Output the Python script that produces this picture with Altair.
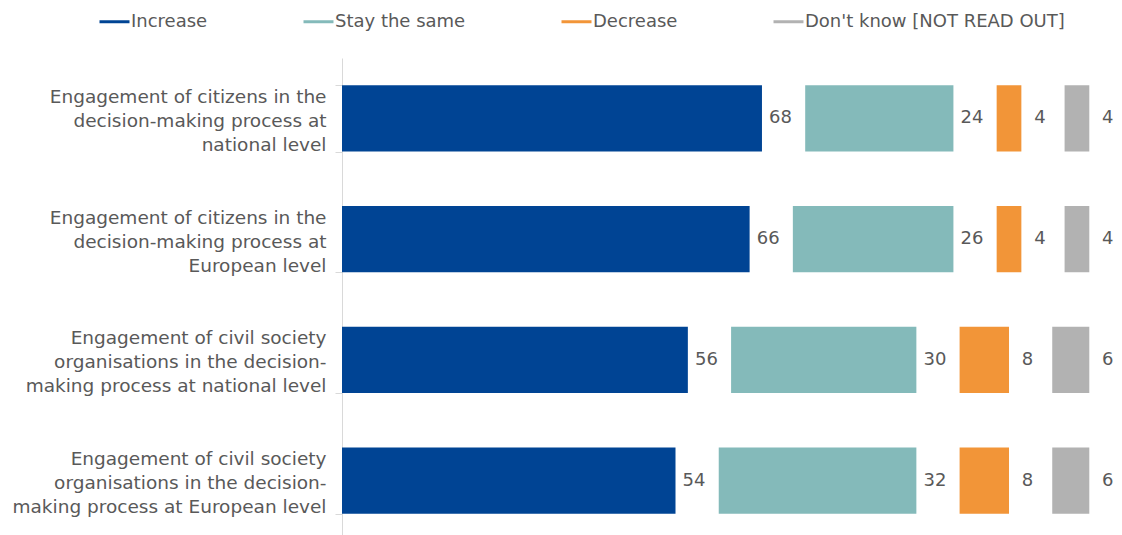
import altair as alt
import pandas as pd

categories = [
    "Engagement of citizens in the|decision-making process at|national level",
    "Engagement of citizens in the|decision-making process at|European level",
    "Engagement of civil society|organisations in the decision-|making process at national level",
    "Engagement of civil society|organisations in the decision-|making process at European level",
]
responses = ["Increase", "Stay the same", "Decrease", "Don't know [NOT READ OUT]"]
increase = [68, 66, 56, 54]
stay = [24, 26, 30, 32]
decrease = [4, 4, 8, 8]
dont_know = [4, 4, 6, 6]
colors = ["#004494", "#84BABA", "#F29538", "#B2B2B2"]
GAP = 7  # spacing (in value units) between segments, room for the labels
LABEL_SHIFT = 3.0

series = [increase, stay, decrease, dont_know]
rows = []
for ci, cat in enumerate(categories):
    pos = 0.0
    for ri, resp in enumerate(responses):
        v = series[ri][ci]
        rows.append({
            "category": cat,
            "response": resp,
            "order": ri,
            "value": v,
            "start": pos,
            "end": pos + v,
            "label_x": pos + v + LABEL_SHIFT,
        })
        pos += v + GAP
df = pd.DataFrame(rows)

FONT = "DejaVu Sans"
TXT = "#595959"

y_enc = alt.Y(
    "category:N",
    sort=categories,
    title=None,
    scale=alt.Scale(paddingInner=0.45, paddingOuter=0.225),
    axis=alt.Axis(
        labelExpr="split(datum.label, '|')",
        labelFont=FONT,
        labelFontSize=18.5,
        labelColor=TXT,
        labelLineHeight=24,
        labelOffset=-22,
        labelPadding=9,
        labelLimit=400,
        tickSize=7,
        tickColor="#D9D9D9",
        domainColor="#D9D9D9",
        tickBand="extent",
        minExtent=334,
        maxExtent=334,
    ),
)

x_scale = alt.Scale(domain=[0, 125], nice=False, zero=True)

bars = alt.Chart(df).mark_bar(strokeWidth=0).encode(
    x=alt.X("start:Q", scale=x_scale, axis=None),
    x2="end:Q",
    y=y_enc,
    fill=alt.Fill(
        "response:N",
        sort=responses,
        scale=alt.Scale(domain=responses, range=colors),
        legend=alt.Legend(
            title=None,
            orient="none",
            direction="horizontal",
            columns=4,
            legendX=-244,
            legendY=-53,
            symbolType="stroke",
            symbolSize=900,
            symbolStrokeWidth=3,
            labelFont=FONT,
            labelFontSize=18,
            labelColor=TXT,
            labelOffset=0,
            labelLimit=500,
            columnPadding=89,
        ),
    ),
    stroke=alt.Stroke(
        "response:N",
        sort=responses,
        scale=alt.Scale(domain=responses, range=colors),
        legend=None,
    ),
)

labels = alt.Chart(df).mark_text(
    font=FONT, fontSize=18, color=TXT, align="center", baseline="middle"
).encode(
    x=alt.X("label_x:Q", scale=x_scale),
    y=alt.Y("category:N", sort=categories),
    text="value:Q",
)

chart = (
    alt.layer(bars, labels)
    .properties(
        width=772,
        height=483,
        padding={"left": 334, "top": 50, "right": 0, "bottom": 0},
        autosize=alt.AutoSizeParams(type="none"),
    )
    .configure_view(stroke=None)
)

chart.save("out.html", embed_options={"renderer": "svg", "actions": False})
